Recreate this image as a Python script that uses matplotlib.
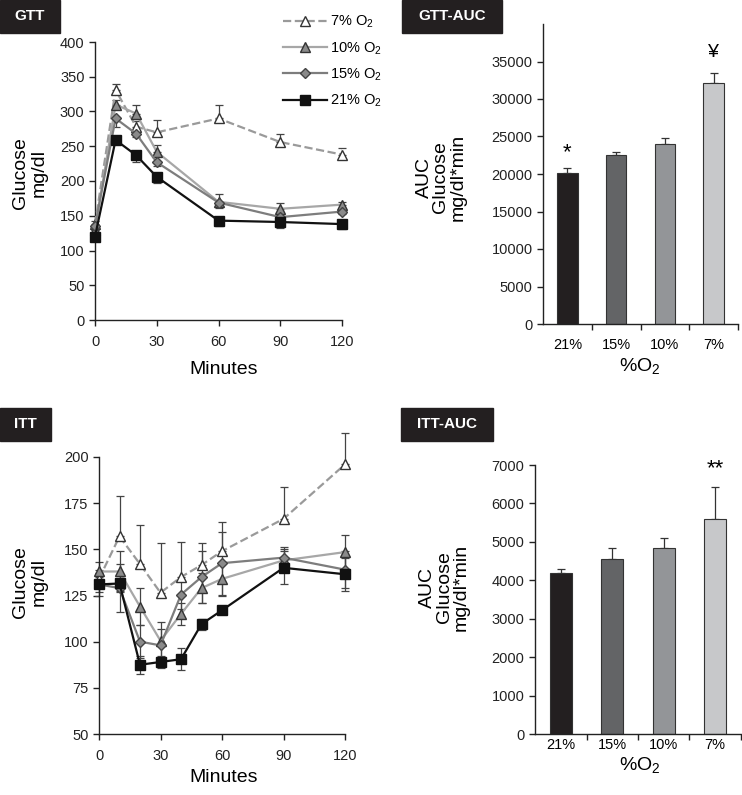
import numpy as np
import matplotlib
matplotlib.use("Agg")
import matplotlib.pyplot as plt
from matplotlib.patches import Rectangle

plt.rcParams['font.family'] = ['Liberation Sans', 'DejaVu Sans']
plt.rcParams['mathtext.default'] = 'regular'

W, H = 742, 795

# GTT data (mg/dl)
gtt_time = [0, 10, 20, 30, 60, 90, 120]
gtt_7 = [138, 331, 278, 270, 290, 256, 238]
gtt_7_err = [5, 8, 8, 18, 19, 11, 10]
gtt_10 = [130, 310, 297, 242, 170, 160, 166]
gtt_10_err = [5, 6, 13, 10, 11, 8, 4]
gtt_15 = [135, 290, 268, 227, 169, 148, 156]
gtt_15_err = [5, 13, 5, 5, 8, 5, 4]
gtt_21 = [120, 259, 237, 206, 143, 141, 138]
gtt_21_err = [7, 5, 9, 9, 8, 8, 7]

# ITT data (mg/dl)
itt_time = [0, 10, 20, 30, 40, 50, 60, 90, 120]
itt_7 = [134, 157, 142, 126.5, 135, 141.5, 149, 166.5, 196]
itt_7_err = [5, 22, 21, 27, 19, 12, 16, 17, 17]
itt_10 = [138, 138, 119, 100.5, 115, 129, 134, 144, 148.5]
itt_10_err = [5, 11, 10, 10, 6, 8, 9, 6, 9]
itt_15 = [131, 129, 100, 98, 125.5, 135, 142.5, 145.5, 139]
itt_15_err = [6, 13, 9, 9, 8, 14, 17, 6, 10]
itt_21 = [131, 131.5, 87.5, 89, 90.5, 109.5, 117, 140, 136.5]
itt_21_err = [4, 4, 5, 3, 6, 3, 2, 9, 9]

# AUC data
o2_labels = ['21%', '15%', '10%', '7%']
gtt_auc = [20200, 22600, 23950, 32150]
gtt_auc_err = [650, 300, 800, 1300]
itt_auc = [4200, 4550, 4840, 5600]
itt_auc_err = [95, 290, 270, 815]

bar_colors = ['#231f20', '#636466', '#939598', '#c7c8ca']

series_style = {
    '7':  dict(color='#9a9a9a', ls='--', marker='^', mfc='white', mec='#333333', ms=7, lw=1.6),
    '10': dict(color='#a7a7a7', ls='-', marker='^', mfc='#8a8a8a', mec='#333333', ms=7, lw=1.6),
    '15': dict(color='#7d7d7d', ls='-', marker='D', mfc='#8a8a8a', mec='#444444', ms=5.5, lw=1.6),
    '21': dict(color='#111111', ls='-', marker='s', mfc='#111111', mec='#111111', ms=6.5, lw=1.6),
}

TICK_FS = 10.5
LABEL_FS = 14


def ax_rect(l, t, r, b):
    return [l / W, 1 - b / H, (r - l) / W, (b - t) / H]


def style_axes(ax):
    for s in ['top', 'right']:
        ax.spines[s].set_visible(False)
    for s in ['left', 'bottom']:
        ax.spines[s].set_linewidth(1.0)
        ax.spines[s].set_color('#222222')
    ax.tick_params(direction='out', length=4, width=1.0, labelsize=TICK_FS, colors='#222222')


def panel_tag(fig, text, l, t, r, b):
    fig.patches.append(Rectangle((l / W, 1 - b / H), (r - l) / W, (b - t) / H,
                                 transform=fig.transFigure, color='#231f20', zorder=5))
    fig.text((l + r) / 2 / W, 1 - (t + b) / 2 / H, text, color='white', fontsize=11,
             fontweight='bold', ha='center', va='center', zorder=6)


def draw_lines(ax, t, series, one_sided):
    for key, y, err in series:
        st = series_style[key]
        err = np.array(err)
        if one_sided.get(key) == 'up':
            yerr = [np.zeros_like(err), err]
        elif one_sided.get(key) == 'down':
            yerr = [err, np.zeros_like(err)]
        else:
            yerr = [err, err]
        ax.errorbar(t, y, yerr=yerr, fmt='none', ecolor='#444444', elinewidth=0.9,
                    capsize=3, capthick=0.9, zorder=2)
        ax.plot(t, y, label=key + '% O$_2$', zorder=3, **st)


def draw_bars(ax, vals, errs, ymax, yticks, pad):
    x = np.arange(len(vals)) + 0.5
    ax.bar(x, vals, width=0.42, color=bar_colors, edgecolor='#333333', linewidth=0.8, zorder=2)
    ax.errorbar(x, vals, yerr=[np.zeros(len(errs)), errs], fmt='none', ecolor='#333333',
                elinewidth=0.9, capsize=3, capthick=0.9, zorder=1)
    ax.set_xlim(0, len(vals))
    ax.set_ylim(0, ymax)
    ax.set_yticks(yticks)
    ax.set_xticks(np.arange(1, len(vals) + 1))
    ax.set_xticklabels([])
    ax.set_xticks(x, minor=True)
    ax.set_xticklabels(o2_labels, minor=True)
    ax.tick_params(axis='x', which='minor', length=0, labelsize=TICK_FS, pad=pad)
    return x


fig = plt.figure(figsize=(W / 100, H / 100), dpi=100)

# GTT
ax1 = fig.add_axes(ax_rect(95, 42, 342, 320))
style_axes(ax1)
draw_lines(ax1, gtt_time,
           [('7', gtt_7, gtt_7_err), ('10', gtt_10, gtt_10_err),
            ('15', gtt_15, gtt_15_err), ('21', gtt_21, gtt_21_err)],
           {'7': 'up', '10': 'up', '15': 'down', '21': 'down'})
ax1.set_xlim(0, 120)
ax1.set_ylim(0, 400)
ax1.set_xticks([0, 30, 60, 90, 120])
ax1.set_yticks(range(0, 401, 50))
ax1.tick_params(axis='x', pad=7)
ax1.legend(loc='upper left', bbox_to_anchor=(277 / W, 1 - 8 / H), bbox_transform=fig.transFigure,
           borderaxespad=0, frameon=False, fontsize=10.5, handlelength=3.0, labelspacing=0.68,
           handletextpad=0.25)
for line in ax1.lines:
    line.set_clip_on(False)

# ITT
ax3 = fig.add_axes(ax_rect(99, 457, 345, 734))
style_axes(ax3)
draw_lines(ax3, itt_time,
           [('7', itt_7, itt_7_err), ('10', itt_10, itt_10_err),
            ('15', itt_15, itt_15_err), ('21', itt_21, itt_21_err)],
           {'7': 'up'})
ax3.set_xlim(0, 120)
ax3.set_ylim(50, 200)
ax3.set_xticks([0, 30, 60, 90, 120])
ax3.set_yticks(range(50, 201, 25))
ax3.tick_params(axis='x', pad=7)
for art in ax3.lines + ax3.collections:
    art.set_clip_on(False)

# GTT-AUC
ax2 = fig.add_axes(ax_rect(543, 24, 738, 324))
style_axes(ax2)
xb = draw_bars(ax2, gtt_auc, gtt_auc_err, 40000, range(0, 35001, 5000), 10)
ax2.annotate('*', (xb[0], gtt_auc[0] + gtt_auc_err[0]), xytext=(0, 3), textcoords='offset points',
             ha='center', va='bottom', fontsize=16)
ax2.annotate('¥', (xb[3], gtt_auc[3] + gtt_auc_err[3]), xytext=(0, 9), textcoords='offset points',
             ha='center', va='bottom', fontsize=14)

# ITT-AUC
ax4 = fig.add_axes(ax_rect(535, 465, 741, 734))
style_axes(ax4)
xb = draw_bars(ax4, itt_auc, itt_auc_err, 7000, range(0, 7001, 1000), 3)
ax4.annotate('**', (xb[3], itt_auc[3] + itt_auc_err[3]), xytext=(0, 6), textcoords='offset points',
             ha='center', va='bottom', fontsize=16)

# axis titles
fig.text(30 / W, 1 - 173 / H, 'Glucose\nmg/dl', rotation=90, ha='center', va='center', fontsize=LABEL_FS, linespacing=1.1)
fig.text(224 / W, 1 - 370 / H, 'Minutes', ha='center', va='center', fontsize=LABEL_FS)
fig.text(441 / W, 1 - 177 / H, 'AUC\nGlucose\nmg/dl*min', rotation=90, ha='center', va='center', fontsize=LABEL_FS, linespacing=1.0)
fig.text(640 / W, 1 - 366 / H, '%O$_2$', ha='center', va='center', fontsize=LABEL_FS)
fig.text(30 / W, 1 - 582 / H, 'Glucose\nmg/dl', rotation=90, ha='center', va='center', fontsize=LABEL_FS, linespacing=1.1)
fig.text(224 / W, 1 - 778 / H, 'Minutes', ha='center', va='center', fontsize=LABEL_FS)
fig.text(444 / W, 1 - 587 / H, 'AUC\nGlucose\nmg/dl*min', rotation=90, ha='center', va='center', fontsize=LABEL_FS, linespacing=1.0)
fig.text(640 / W, 1 - 765 / H, '%O$_2$', ha='center', va='center', fontsize=LABEL_FS)

panel_tag(fig, 'GTT', 0, 0, 60, 33)
panel_tag(fig, 'GTT-AUC', 402, 0, 502, 33)
panel_tag(fig, 'ITT', 0, 408, 51, 441)
panel_tag(fig, 'ITT-AUC', 401, 408, 493, 441)

fig.savefig('out.png', dpi=100)
